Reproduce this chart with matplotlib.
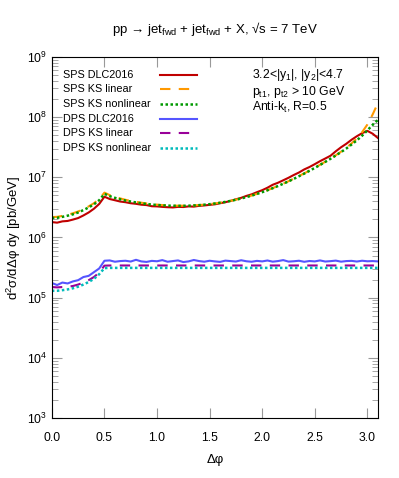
import numpy as np
import matplotlib
matplotlib.use("Agg")
import matplotlib.pyplot as plt
from matplotlib.lines import Line2D
from matplotlib.ticker import LogLocator, MultipleLocator, NullFormatter

plt.rcParams['font.family'] = ['Liberation Sans', 'DejaVu Sans']
plt.rcParams['mathtext.default'] = 'regular'

# delta phi grid, 0.05 steps
dphi = np.linspace(0.0, 3.1, 63)

# SPS curves, units of 1e6 pb/GeV
sps_dlc = [1.80, 1.76, 1.85, 1.88, 1.98, 2.10, 2.32, 2.60, 3.00, 3.60,
           4.75, 4.35, 4.15, 3.95, 3.85, 3.70, 3.62, 3.50, 3.45, 3.30,
           3.28, 3.22, 3.18, 3.15, 3.22, 3.20, 3.28, 3.25, 3.35, 3.40,
           3.48, 3.55, 3.70, 3.85, 4.05, 4.30, 4.55, 4.90, 5.20, 5.65,
           6.10, 6.70, 7.50, 8.10, 8.90, 9.80, 10.9, 12.0, 13.5, 14.8,
           16.5, 18.5, 20.5, 22.8, 27.0, 31.5, 36.0, 42.0, 48.0, 54.0,
           59.0, 53.0, 45.0]
sps_ks_lin = [2.18, 2.20, 2.28, 2.38, 2.52, 2.70, 2.95, 3.28, 3.70, 4.35,
              5.55, 5.05, 4.72, 4.45, 4.22, 4.05, 3.90, 3.78, 3.67, 3.58,
              3.51, 3.45, 3.41, 3.38, 3.37, 3.37, 3.38, 3.41, 3.45, 3.51,
              3.58, 3.67, 3.78, 3.91, 4.06, 4.24, 4.45, 4.69, 4.97, 5.29,
              5.66, 6.09, 6.60, 7.17, 7.82, 8.58, 9.45, 10.5, 11.6, 12.9,
              14.4, 16.1, 18.1, 20.4, 23.2, 26.6, 30.8, 36.5, 44.0, 56.0,
              75.0, 110.0, 170.0]
sps_ks_nonlin = [2.10, 2.12, 2.20, 2.30, 2.42, 2.60, 2.85, 3.15, 3.55, 4.15,
                 5.30, 4.85, 4.55, 4.30, 4.10, 3.95, 3.82, 3.70, 3.60, 3.52,
                 3.46, 3.41, 3.38, 3.36, 3.35, 3.35, 3.37, 3.40, 3.44, 3.50,
                 3.57, 3.66, 3.77, 3.90, 4.05, 4.23, 4.44, 4.68, 4.96, 5.28,
                 5.65, 6.08, 6.58, 7.15, 7.80, 8.55, 9.40, 10.4, 11.5, 12.8,
                 14.3, 16.0, 18.0, 20.3, 23.0, 26.2, 30.0, 35.0, 41.0, 49.0,
                 60.0, 74.0, 90.0]

# DPS curves, units of 1e5 pb/GeV
dps_dlc = [1.75, 1.62, 1.78, 1.72, 1.86, 1.95, 2.20, 2.30, 2.65, 3.05,
           4.10, 4.15, 3.95, 4.05, 4.10, 3.98, 4.25, 4.00, 3.92, 4.08,
           4.02, 4.20, 3.95, 4.05, 4.15, 3.90, 4.00, 4.22, 4.05, 3.95,
           4.10, 4.00, 3.93, 4.12, 4.05, 3.98, 4.18, 4.02, 3.95, 4.08,
           4.00, 4.14, 3.96, 4.05, 4.20, 3.97, 4.02, 4.10, 3.94, 4.06,
           4.00, 4.15, 3.98, 4.04, 4.12, 3.96, 4.05, 4.08, 3.98, 4.10,
           4.02, 4.05, 4.00]
dps_ks_lin = [1.50, 1.48, 1.50, 1.52, 1.56, 1.65, 1.78, 1.95, 2.20, 2.60,
              3.40, 3.42, 3.42, 3.42, 3.42, 3.42, 3.42, 3.42, 3.42, 3.42,
              3.42, 3.42, 3.42, 3.42, 3.42, 3.42, 3.42, 3.42, 3.42, 3.42,
              3.42, 3.42, 3.42, 3.42, 3.42, 3.42, 3.42, 3.42, 3.42, 3.42,
              3.42, 3.42, 3.42, 3.42, 3.42, 3.42, 3.42, 3.42, 3.42, 3.42,
              3.42, 3.42, 3.42, 3.42, 3.42, 3.42, 3.42, 3.42, 3.42, 3.42,
              3.42, 3.42, 3.42]
dps_ks_nonlin = [1.30, 1.30, 1.33, 1.37, 1.43, 1.52, 1.65, 1.82, 2.05, 2.45,
                 3.10, 3.12, 3.12, 3.12, 3.12, 3.12, 3.12, 3.12, 3.12, 3.12,
                 3.12, 3.12, 3.12, 3.12, 3.12, 3.12, 3.12, 3.12, 3.12, 3.12,
                 3.12, 3.12, 3.12, 3.12, 3.12, 3.12, 3.12, 3.12, 3.12, 3.12,
                 3.12, 3.12, 3.12, 3.12, 3.12, 3.12, 3.12, 3.12, 3.12, 3.12,
                 3.12, 3.12, 3.12, 3.12, 3.12, 3.12, 3.12, 3.12, 3.12, 3.12,
                 3.12, 3.12, 3.12]

labels = ['SPS DLC2016', 'SPS KS linear', 'SPS KS nonlinear',
          'DPS DLC2016', 'DPS KS linear', 'DPS KS nonlinear']
info_lines = ['3.2<|y$_1$|, |y$_2$|<4.7', 'p$_{t1}$, p$_{t2}$ > 10 GeV',
              'Anti-k$_t$, R=0.5']

styles = [dict(color='#c00000', lw=1.5),
          dict(color='#ff9900', lw=1.5, dashes=(5, 4)),
          dict(color='#009900', lw=1.8, dashes=(1, 1)),
          dict(color='#5555ff', lw=1.5),
          dict(color='#990099', lw=1.5, dashes=(5, 4)),
          dict(color='#00bbbb', lw=1.8, dashes=(1, 1))]
series = [np.array(sps_dlc) * 1e6, np.array(sps_ks_lin) * 1e6,
          np.array(sps_ks_nonlin) * 1e6, np.array(dps_dlc) * 1e5,
          np.array(dps_ks_lin) * 1e5, np.array(dps_ks_nonlin) * 1e5]

fig = plt.figure(figsize=(3.99, 4.78), dpi=100)
ax = fig.add_axes([0.130, 0.1255, 0.817, 0.7555])

for ys, st in zip(series, styles):
    ax.plot(dphi, ys, **st)

ax.set_yscale('log')
ax.set_xlim(0, 3.1)
ax.set_ylim(1e3, 1e9)
ax.xaxis.set_major_locator(MultipleLocator(0.5))
ax.yaxis.set_major_locator(LogLocator(base=10, numticks=10))
ax.yaxis.set_minor_locator(LogLocator(base=10, subs=np.arange(2, 10), numticks=20))
ax.yaxis.set_minor_formatter(NullFormatter())
ax.tick_params(which='both', direction='in', top=True, right=True,
               color='#999999', labelsize=8.8)
ax.tick_params(which='major', length=7)
ax.tick_params(which='minor', length=4)
ax.xaxis.set_major_formatter(plt.FuncFormatter(lambda v, p: '%.1f' % v))
ax.tick_params(axis='x', pad=10)

ax.set_xlabel('Δφ', fontsize=9.5, labelpad=7)
ax.set_ylabel('d$^2$σ/dΔφ dy [pb/GeV]', fontsize=9.5, labelpad=3)
ax.set_title('pp → jet$_{fwd}$ + jet$_{fwd}$ + X, √s = 7 TeV', fontsize=9.5, pad=17)

# legend drawn by hand: text on the left, sample line on the right
row_y = [0.950, 0.910, 0.869, 0.829, 0.789, 0.748]
for lab, st, yy in zip(labels, styles, row_y):
    ax.text(0.034, yy, lab, transform=ax.transAxes, fontsize=7.8, va='center')
    ax.add_line(Line2D([0.331, 0.445], [yy, yy], transform=ax.transAxes, **st))

for txt, yy in zip(info_lines, [0.950, 0.904, 0.859]):
    ax.text(0.613, yy, txt, transform=ax.transAxes, fontsize=8.8, va='center')

fig.savefig('out.png', dpi=100)
